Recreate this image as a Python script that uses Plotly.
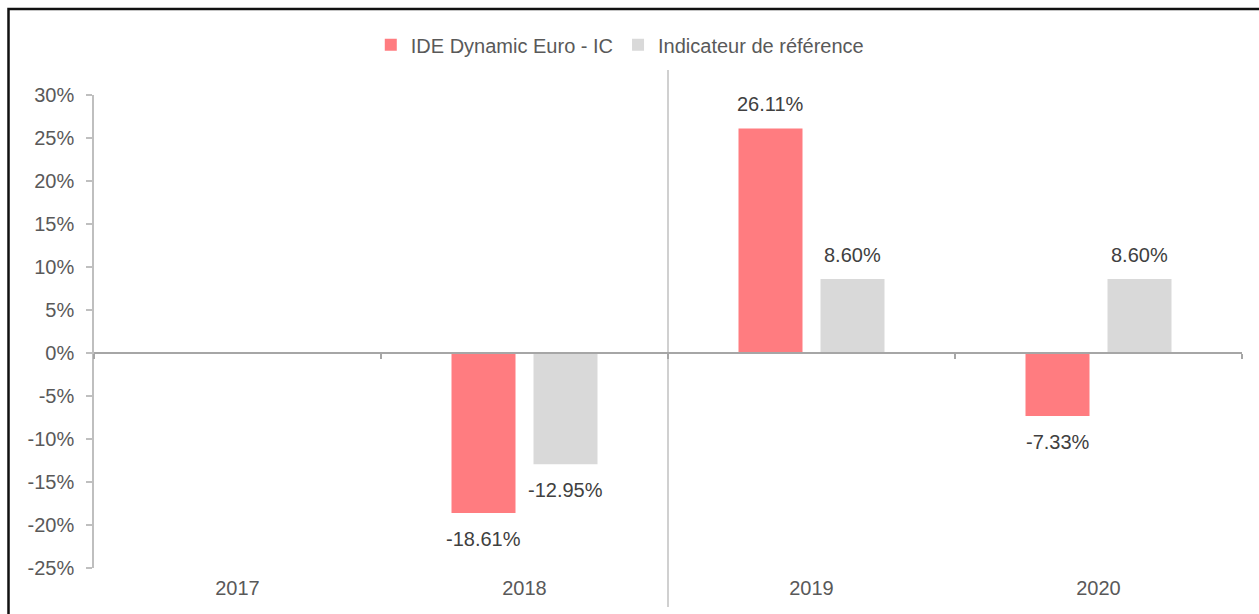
import plotly.graph_objects as go

categories = ["2017", "2018", "2019", "2020"]
fund_name = "IDE Dynamic Euro - IC"
ref_name = "Indicateur de référence"
fund_values = [None, -18.61, 26.11, -7.33]
ref_values = [None, -12.95, 8.60, 8.60]
y_ticks = [-25, -20, -15, -10, -5, 0, 5, 10, 15, 20, 25, 30]
y_tick_labels = ["-25%", "-20%", "-15%", "-10%", "-5%", "0%", "5%", "10%", "15%", "20%", "25%", "30%"]

RED = "#FF7C80"
GRAY = "#D9D9D9"
FONT = "Liberation Sans, Arial, sans-serif"
TXT = "#595959"
LBL = "#404040"
BARGAP = 0.4286
GROUPGAP = 0.2195

fig = go.Figure()
fig.add_trace(go.Bar(x=categories, y=fund_values, name=fund_name,
                     marker=dict(color=RED, line=dict(width=0))))
fig.add_trace(go.Bar(x=categories, y=ref_values, name=ref_name,
                     marker=dict(color=GRAY, line=dict(width=0))))
# data-less trace that only carries the zero-line category axis
fig.add_trace(go.Scatter(x=categories, y=[None] * len(categories), xaxis="x2",
                         mode="markers", showlegend=False, hoverinfo="skip"))

# value labels
slot = (1 - BARGAP) / 2
annotations = []
for series, sign in ((fund_values, -1), (ref_values, 1)):
    for i, v in enumerate(series):
        if v is None:
            continue
        annotations.append(dict(
            x=i + sign * slot / 2, y=v, xref="x", yref="y",
            text=f"{v:.2f}%", showarrow=False,
            yshift=24 if v >= 0 else -26, yanchor="middle",
            font=dict(family=FONT, size=20, color=LBL)))

n = len(categories)
fig.update_layout(
    width=1259, height=614,
    margin=dict(l=94, r=17, t=95, b=46),
    paper_bgcolor="white", plot_bgcolor="white",
    barmode="group", bargap=BARGAP, bargroupgap=GROUPGAP,
    font=dict(family=FONT, size=20, color=TXT),
    showlegend=True,
    legend=dict(orientation="h", x=0.458, xanchor="center", y=1.106, yanchor="middle",
                font=dict(family=FONT, size=20, color=TXT), itemwidth=30,
                bgcolor="rgba(0,0,0,0)"),
    xaxis=dict(type="category", categoryarray=categories, showline=False, ticks="",
               showgrid=False, zeroline=False, range=[-0.5, n - 0.5],
               tickfont=dict(family=FONT, size=20, color=TXT), ticklabelstandoff=6),
    xaxis2=dict(type="category", categoryarray=categories, overlaying="x",
                anchor="free", position=25 / 55, range=[-0.5, n - 0.5],
                showline=True, linecolor="#A6A6A6", linewidth=1.5,
                ticks="outside", ticklen=5, tickcolor="#A6A6A6", tickwidth=1.5,
                tickson="boundaries", showticklabels=False,
                showgrid=False, zeroline=False),
    yaxis=dict(range=[-25, 30], tickvals=y_ticks, ticktext=y_tick_labels, showgrid=False,
               zeroline=False, showline=True, linecolor="#BFBFBF", linewidth=1.5,
               ticks="outside", ticklen=6, tickcolor="#BFBFBF", tickwidth=1.5,
               tickfont=dict(family=FONT, size=20, color=TXT), ticklabelstandoff=8),
    annotations=annotations,
    shapes=[
        dict(type="line", xref="x", yref="paper", x0=1.5, x1=1.5,
             y0=-39 / 473, y1=498 / 473, line=dict(color="#D0D0D0", width=2), layer="below"),
        dict(type="rect", xref="paper", yref="paper",
             x0=-85.5 / 1148, x1=1.2, y0=-0.3, y1=559 / 473,
             line=dict(color="#111111", width=2.5), fillcolor="rgba(0,0,0,0)"),
    ],
)

fig.write_html("out.html")
